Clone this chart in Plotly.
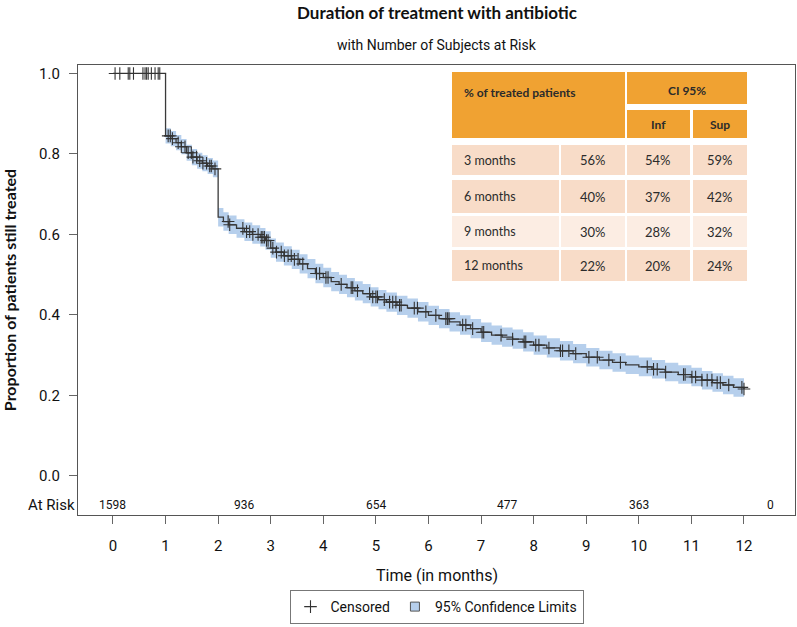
import numpy as np
import plotly.graph_objects as go

# ---------------- data ----------------
step_times = [0, 1.00, 1.10, 1.20, 1.30, 1.40, 1.50, 1.60, 1.70, 1.80, 1.90,
              2.00, 2.10, 2.20, 2.35, 2.50, 2.65, 2.80, 2.90,
              3.00, 3.10, 3.25, 3.40, 3.55, 3.70, 3.85,
              4.00, 4.15, 4.30, 4.45, 4.60, 4.75, 4.90,
              5.05, 5.20, 5.40, 5.60, 5.80,
              6.00, 6.20, 6.40, 6.60, 6.80,
              7.00, 7.20, 7.40, 7.60, 7.80,
              8.00, 8.25, 8.50, 8.75,
              9.00, 9.25, 9.50, 9.75,
              10.00, 10.25, 10.50, 10.75,
              11.00, 11.20, 11.40, 11.60, 11.80,
              12.00]
surv = [1.000, 0.845, 0.838, 0.828, 0.818, 0.803, 0.792, 0.783, 0.777, 0.770, 0.763,
        0.643, 0.632, 0.624, 0.615, 0.607, 0.600, 0.593, 0.585,
        0.566, 0.556, 0.547, 0.538, 0.527, 0.515, 0.503,
        0.493, 0.483, 0.476, 0.468, 0.460, 0.453, 0.445,
        0.438, 0.432, 0.424, 0.417, 0.408,
        0.399, 0.391, 0.383, 0.375, 0.366,
        0.357, 0.350, 0.345, 0.340, 0.333,
        0.325, 0.318, 0.311, 0.304,
        0.295, 0.288, 0.282, 0.276,
        0.271, 0.265, 0.258, 0.252,
        0.246, 0.238, 0.232, 0.226, 0.220,
        0.216]
ci_low = [1.000, 0.826, 0.819, 0.809, 0.799, 0.783, 0.772, 0.763, 0.757, 0.750, 0.742,
          0.620, 0.609, 0.601, 0.592, 0.584, 0.577, 0.570, 0.562,
          0.542, 0.532, 0.523, 0.514, 0.503, 0.491, 0.479,
          0.469, 0.459, 0.452, 0.444, 0.436, 0.429, 0.421,
          0.414, 0.408, 0.400, 0.393, 0.384,
          0.375, 0.367, 0.359, 0.351, 0.342,
          0.333, 0.326, 0.321, 0.316, 0.309,
          0.301, 0.294, 0.287, 0.280,
          0.272, 0.265, 0.259, 0.253,
          0.248, 0.242, 0.235, 0.229,
          0.223, 0.215, 0.209, 0.203, 0.197,
          0.193]
ci_high = [1.000, 0.864, 0.857, 0.847, 0.837, 0.823, 0.812, 0.803, 0.797, 0.790, 0.784,
           0.666, 0.655, 0.647, 0.638, 0.630, 0.623, 0.616, 0.608,
           0.590, 0.580, 0.571, 0.562, 0.551, 0.539, 0.527,
           0.517, 0.507, 0.500, 0.492, 0.484, 0.477, 0.469,
           0.462, 0.456, 0.448, 0.441, 0.432,
           0.423, 0.415, 0.407, 0.399, 0.390,
           0.381, 0.374, 0.369, 0.364, 0.357,
           0.349, 0.342, 0.335, 0.328,
           0.318, 0.311, 0.305, 0.299,
           0.294, 0.288, 0.281, 0.275,
           0.269, 0.261, 0.255, 0.249, 0.243,
           0.239]
censor_times = [0.04, 0.13, 0.29, 0.32, 0.39, 0.57, 0.61, 0.64, 0.67, 0.73, 0.80, 0.86, 0.89,
                1.05, 1.09, 1.13, 1.24, 1.30, 1.37, 1.43, 1.49, 1.52, 1.59, 1.65, 1.71, 1.78, 1.84, 1.87, 1.94,
                2.19, 2.22, 2.47, 2.54, 2.60, 2.66, 2.76, 2.82, 2.85, 2.88, 2.92, 2.95,
                3.04, 3.11, 3.20, 3.26, 3.33, 3.39, 3.45, 3.52, 3.61, 3.87, 3.93, 4.05, 4.09,
                4.34, 4.53, 4.56, 4.65, 4.88, 4.94, 5.00, 5.03, 5.16, 5.26, 5.32, 5.38, 5.45, 5.48,
                5.73, 5.79, 5.95, 6.14, 6.33, 6.36, 6.39, 6.65, 6.71, 6.84, 7.02, 7.05, 7.38, 7.60,
                7.82, 7.85, 8.04, 8.10,
                8.29, 8.51, 8.55, 8.67, 8.80, 9.05, 9.21, 9.43, 9.65, 10.16, 10.28, 10.35, 10.51,
                10.85, 10.88, 11.01, 11.08, 11.20, 11.30, 11.39, 11.49, 11.55, 11.71, 11.96, 12.00]
at_risk_times = [0, 2.5, 5, 7.5, 10, 12.5]
at_risk_counts = ["1598", "936", "654", "477", "363", "0"]
x_ticks = list(range(0, 13))
y_ticks = [0.0, 0.2, 0.4, 0.6, 0.8, 1.0]
y_ticktext = ["0.0", "0.2", "0.4", "0.6", "0.8", "1.0"]

table_labels = ["3 months", "6 months", "9 months", "12 months"]
table_pct = ["56%", "40%", "30%", "22%"]
table_inf = ["54%", "37%", "28%", "20%"]
table_sup = ["59%", "42%", "32%", "24%"]

# ---------------- layout constants ----------------
W, H = 797, 627
L, R, T, B = 78, 795, 65, 515
NARROW = "Roboto, Liberation Sans Narrow, sans-serif"
CAL = "Lato, Open Sans, sans-serif"


def px2x(px):
    return (px - L) / (R - L)


def py2y(py):
    return (B - py) / (B - T)


st = np.array(step_times)
sv = np.array(surv)
idx = np.searchsorted(st, np.array(censor_times), side="right") - 1
censor_y = sv[idx]

fig = go.Figure()
# confidence band
fig.add_trace(go.Scatter(x=step_times[1:], y=ci_low[1:], mode="lines", line=dict(width=0, shape="hv"),
                         showlegend=False, hoverinfo="skip"))
fig.add_trace(go.Scatter(x=step_times[1:], y=ci_high[1:], mode="lines", line=dict(width=0, shape="hv"),
                         fill="tonexty", fillcolor="#B6CFEC", showlegend=False, hoverinfo="skip"))
# KM curve
fig.add_trace(go.Scatter(x=step_times, y=surv, mode="lines", line=dict(color="#3a3a3a", width=1.3, shape="hv"),
                         showlegend=False))
# legend proxy for the confidence band
fig.add_trace(go.Scatter(x=[None], y=[None], mode="markers", name="95% Confidence Limits",
                         legendrank=2,
                         marker=dict(symbol="square", size=9, color="#B6CFEC", line=dict(color="#555", width=1))))
# censored
fig.add_trace(go.Scatter(x=censor_times, y=censor_y, mode="markers", name="Censored", legendrank=1,
                         marker=dict(symbol="cross-thin", size=9, line=dict(color="#333333", width=1.1))))

shapes = []
annotations = []

# at-risk row
for t, c in zip(at_risk_times, at_risk_counts):
    annotations.append(dict(x=t, y=-0.072, xref="x", yref="y", text=c, showarrow=False,
                            xanchor="center", yanchor="middle",
                            font=dict(family=NARROW, size=12, color="#111")))
annotations.append(dict(x=0, y=-0.072, xref="paper", yref="y", text="At Risk", showarrow=False,
                        xanchor="right", yanchor="middle", xshift=-1,
                        font=dict(family=NARROW, size=15, color="#111")))

# title & subtitle
annotations.append(dict(x=0.5, y=py2y(13), xref="paper", yref="paper", text="<b>Duration of treatment with antibiotic</b>",
                        showarrow=False, xanchor="center", yanchor="middle",
                        font=dict(family=CAL, size=17, color="#111")))
annotations.append(dict(x=0.5, y=py2y(45), xref="paper", yref="paper", text="with Number of Subjects at Risk",
                        showarrow=False, xanchor="center", yanchor="middle",
                        font=dict(family=NARROW, size=14, color="#111")))
# x-title
annotations.append(dict(x=0.5, y=py2y(575), xref="paper", yref="paper", text="Time (in months)",
                        showarrow=False, xanchor="center", yanchor="middle",
                        font=dict(family=NARROW, size=16, color="#111")))

# ---- table ----
ORANGE = "#F0A232"
ROW = "#F8DCC8"
ROW_LIGHT = "#FCEDE3"
cols = [(452, 559), (561, 625), (627, 690), (693, 747)]


def rect(x0, x1, y0, y1, color):
    shapes.append(dict(type="rect", xref="paper", yref="paper", x0=px2x(x0), x1=px2x(x1),
                       y0=py2y(y1), y1=py2y(y0), fillcolor=color, line=dict(width=0), layer="above"))


rect(452, 625, 72, 138, ORANGE)
rect(627, 747, 72, 104, ORANGE)
rect(627, 690, 110, 138, ORANGE)
rect(693, 747, 110, 138, ORANGE)


def ann(px, py, text, anchor="center", size=12, bold=False):
    annotations.append(dict(x=px2x(px), y=py2y(py), xref="paper", yref="paper",
                            text=("<b>%s</b>" % text) if bold else text, showarrow=False,
                            xanchor=anchor, yanchor="middle",
                            font=dict(family=CAL, size=size, color="#2b2b2b")))


ann(462, 92, "% of treated patients", anchor="left", size=12, bold=True)
ann(687, 90, "CI 95%", size=12, bold=True)
ann(658, 125, "Inf", size=12, bold=True)
ann(720, 125, "Sup", size=12, bold=True)

row_bounds = [(145, 175), (180, 213), (216, 247), (250, 281)]
row_colors = [ROW, ROW, ROW_LIGHT, ROW]
for i, (y0, y1) in enumerate(row_bounds):
    for (x0, x1) in cols:
        rect(x0, x1, y0, y1, row_colors[i])
    yc = (y0 + y1) / 2
    ann(462, yc, table_labels[i], anchor="left", size=12.5)
    ann(593, yc, table_pct[i], size=13)
    ann(658, yc, table_inf[i], size=13)
    ann(720, yc, table_sup[i], size=13)

fig.update_layout(
    width=W, height=H,
    margin=dict(l=L, r=W - R, t=T, b=H - B, autoexpand=False),
    paper_bgcolor="white", plot_bgcolor="white",
    showlegend=True,
    legend=dict(orientation="h", x=0.5, xanchor="center", xref="paper",
                yref="container", y=(H - 624) / H, yanchor="bottom", traceorder="normal",
                bordercolor="#777", borderwidth=1, font=dict(family=NARROW, size=14, color="#111"),
                bgcolor="white", itemwidth=30),
    shapes=shapes, annotations=annotations,
)
fig.update_xaxes(range=[-0.665, 12.97], tickvals=x_ticks, ticks="outside", ticklen=8, tickcolor="#666",
                 showline=True, linecolor="#555", linewidth=1.2, mirror=True, showgrid=False, zeroline=False,
                 automargin=False,
                 tickfont=dict(family=NARROW, size=15, color="#111"), ticklabelstandoff=9)
fig.update_yaxes(range=[-0.097, 1.021], tickvals=y_ticks, ticktext=y_ticktext,
                 ticks="outside", ticklen=8, tickcolor="#666",
                 showline=True, linecolor="#555", linewidth=1.2, mirror=True, showgrid=False, zeroline=False,
                 automargin=False,
                 tickfont=dict(family=NARROW, size=15, color="#111"), ticklabelstandoff=6,
                 title=dict(text="<b>Proportion of patients still treated</b>", font=dict(family=CAL, size=16, color="#111"),
                            standoff=18))

fig.write_html("out.html", config={"displayModeBar": False},
               post_script="document.body.style.margin='0px';document.body.style.overflow='hidden';")
